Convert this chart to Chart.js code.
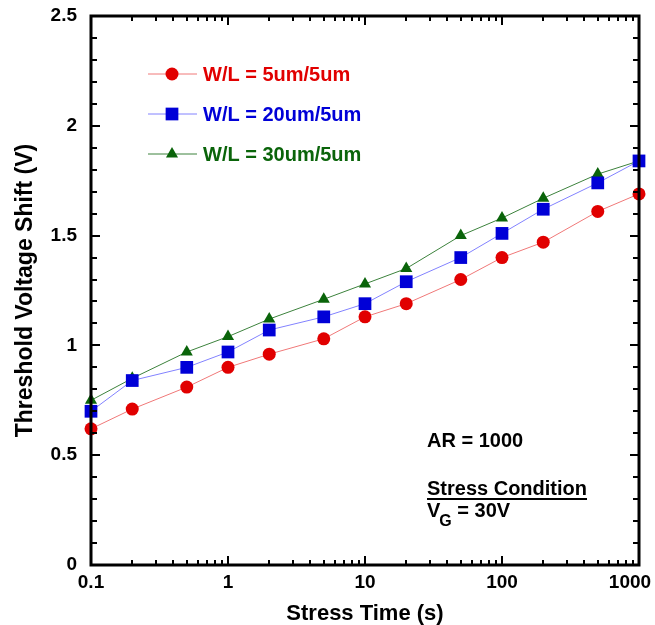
<!DOCTYPE html>
<html>
<head>
<meta charset="utf-8">
<script src="https://cdn.jsdelivr.net/npm/chart.js@4.4.1/dist/chart.umd.min.js"></script>
<style>
  html, body { margin: 0; padding: 0; background: #fff; }
</style>
</head>
<body>
<canvas id="vth-chart" width="655" height="625"></canvas>
<script>
Chart.defaults.font.family = "'Liberation Sans', Arial, Helvetica, sans-serif";
Chart.defaults.font.weight = 'bold';
Chart.defaults.color = '#000';

// stress time (s)
var stressTime = [0.1, 0.2, 0.5, 1, 2, 5, 10, 20, 50, 100, 200, 500, 1000];

// threshold voltage shift (V)
var shift5 = [0.62, 0.71, 0.81, 0.90, 0.96, 1.03, 1.13, 1.19, 1.30, 1.40, 1.47, 1.61, 1.69];
var shift20 = [0.70, 0.84, 0.90, 0.97, 1.07, 1.13, 1.19, 1.29, 1.40, 1.51, 1.62, 1.74, 1.84];
var shift30 = [0.75, 0.85, 0.97, 1.04, 1.12, 1.21, 1.28, 1.35, 1.50, 1.58, 1.67, 1.78, 1.84];

var seriesLabels = ['W/L = 5um/5um', 'W/L = 20um/5um', 'W/L = 30um/5um'];

var xTickValues = [0.1, 1, 10, 100, 1000];
var xTickLabels = ['0.1', '1', '10', '100', '1000'];
var yTickValues = [0, 0.5, 1, 1.5, 2, 2.5];
var yTickLabels = ['0', '0.5', '1', '1.5', '2', '2.5'];

var noteLines = ['AR = 1000', 'Stress Condition', 'V', 'G', ' = 30V'];


function toPoints(ys) {
	var pts = [];
	for (var i = 0; i < stressTime.length; i++) {
		pts.push({ x: stressTime[i], y: ys[i] });
	}
	return pts;
}

function shape(ctx, style, x, y, r) {
	ctx.beginPath();
	if (style === 'circle') {
		ctx.arc(x, y, r, 0, Math.PI * 2);
	} else if (style === 'rect') {
		var s = r * Math.SQRT1_2;
		ctx.rect(x - s, y - s, 2 * s, 2 * s);
	} else {
		ctx.moveTo(x, y - r);
		ctx.lineTo(x + r * Math.sin(Math.PI * 2 / 3), y + r / 2);
		ctx.lineTo(x - r * Math.sin(Math.PI * 2 / 3), y + r / 2);
		ctx.closePath();
	}
	ctx.fill();
}

// frame, inward ticks, legend and note text
var decorPlugin = {
	id: 'decor',
	beforeDraw: function(chart) {
		// keep the last x label ("1000") inside the canvas
		var items = chart.scales.x.getLabelItems(chart.chartArea);
		if (items.length) {
			items[items.length - 1].options.translation[0] -= 9;
		}
	},
	afterDraw: function(chart) {
		var ctx = chart.ctx;
		var area = chart.chartArea;
		var xs = chart.scales.x;
		var ys = chart.scales.y;

		ctx.save();
		ctx.strokeStyle = '#000';

		// y ticks (left + right)
		ctx.lineWidth = 2;
		for (var i = 0; i <= 25; i++) {
			var v = i / 10;
			var py = Math.round(ys.getPixelForValue(v));
			var len = (i % 5 === 0) ? 9 : 6;
			ctx.beginPath();
			ctx.moveTo(area.left, py);
			ctx.lineTo(area.left + len, py);
			ctx.moveTo(area.right, py);
			ctx.lineTo(area.right - len, py);
			ctx.stroke();
		}

		// x ticks (bottom + top)
		for (var d = 0.1; d < 1000; d *= 10) {
			for (var k = 1; k <= 10; k++) {
				var val = k * d;
				var px = Math.round(xs.getPixelForValue(val));
				var tl = (k === 1 || k === 10) ? 9 : 5;
				ctx.beginPath();
				ctx.moveTo(px, area.bottom);
				ctx.lineTo(px, area.bottom - tl);
				ctx.moveTo(px, area.top);
				ctx.lineTo(px, area.top + tl);
				ctx.stroke();
			}
		}

		// frame
		ctx.lineWidth = 3;
		ctx.strokeRect(area.left, area.top, area.right - area.left, area.bottom - area.top);

		// legend
		var ds = chart.data.datasets;
		ctx.font = 'bold 20px "Liberation Sans", Arial, sans-serif';
		ctx.textBaseline = 'middle';
		ctx.textAlign = 'left';
		for (var j = 0; j < ds.length; j++) {
			var ly = 74 + j * 40;
			ctx.strokeStyle = ds[j].borderColor;
			ctx.lineWidth = 1;
			ctx.beginPath();
			ctx.moveTo(148, ly);
			ctx.lineTo(197, ly);
			ctx.stroke();
			ctx.fillStyle = ds[j].pointBackgroundColor;
			shape(ctx, ds[j].pointStyle, 172, ly, ds[j].pointRadius);
			ctx.fillStyle = ds[j].pointBackgroundColor;
			ctx.fillText(ds[j].label, 203, ly + 1);
		}

		// notes
		ctx.fillStyle = '#000';
		ctx.fillText(noteLines[0], 427, 441);
		ctx.fillText(noteLines[1], 427, 489);
		var w = ctx.measureText(noteLines[1]).width;
		ctx.fillRect(427, 498, w, 2);
		ctx.fillText(noteLines[2], 427, 511);
		var vw = ctx.measureText(noteLines[2]).width;
		ctx.font = 'bold 16px "Liberation Sans", Arial, sans-serif';
		ctx.fillText(noteLines[3], 427 + vw - 1, 522);
		var gw = ctx.measureText(noteLines[3]).width;
		ctx.font = 'bold 20px "Liberation Sans", Arial, sans-serif';
		ctx.fillText(noteLines[4], 427 + vw + gw - 1, 511);

		ctx.restore();
	}
};


const ctx = document.getElementById('vth-chart').getContext('2d');
const vthChart = new Chart(ctx, {
	type: 'line',
	data: {
		datasets: [
			{
				label: seriesLabels[0],
				data: toPoints(shift5),
				borderColor: 'rgb(240, 120, 120)',
				borderWidth: 1,
				pointStyle: 'circle',
				pointRadius: 6.5,
				pointBackgroundColor: 'rgb(225, 0, 0)',
				pointBorderWidth: 0,
				clip: false
			},
			{
				label: seriesLabels[1],
				data: toPoints(shift20),
				borderColor: 'rgb(130, 130, 255)',
				borderWidth: 1,
				pointStyle: 'rect',
				pointRadius: 9,
				pointBackgroundColor: 'rgb(0, 0, 215)',
				pointBorderWidth: 0,
				clip: false
			},
			{
				label: seriesLabels[2],
				data: toPoints(shift30),
				borderColor: 'rgb(60, 130, 60)',
				borderWidth: 1,
				pointStyle: 'triangle',
				pointRadius: 7,
				pointBackgroundColor: 'rgb(10, 100, 10)',
				pointBorderWidth: 0,
				clip: false
			}
		]
	},
	options: {
		responsive: false,
		animation: false,
		layout: {
			padding: { top: 16, right: 16, left: 0, bottom: 0 }
		},
		plugins: {
			legend: { display: false },
			tooltip: { enabled: false }
		},
		scales: {
			x: {
				type: 'logarithmic',
				min: 0.1,
				max: 1000,
				grid: { display: false, drawTicks: false },
				border: { display: false },
				afterBuildTicks: function(scale) {
					scale.ticks = xTickValues.map(function(v) { return { value: v }; });
				},
				afterFit: function(scale) {
					scale.height = 60;
					scale.paddingLeft = 0;
					scale.paddingRight = 0;
				},
				ticks: {
					font: { size: 19, weight: 'bold' },
					color: '#000',
					padding: 6,
					maxRotation: 0,
					autoSkip: false,
					callback: function(value) {
						var idx = xTickValues.indexOf(value);
						return idx >= 0 ? xTickLabels[idx] : '';
					}
				},
				title: {
					display: true,
					text: 'Stress Time (s)',
					font: { size: 22, weight: 'bold', lineHeight: 1 },
					color: '#000',
					padding: { top: 0, bottom: 0 }
				}
			},
			y: {
				min: 0,
				max: 2.5,
				grid: { display: false, drawTicks: false },
				border: { display: false },
				afterBuildTicks: function(scale) {
					scale.ticks = yTickValues.map(function(v) { return { value: v }; });
				},
				afterFit: function(scale) {
					scale.width = 91;
					scale.paddingTop = 0;
					scale.paddingBottom = 0;
				},
				ticks: {
					font: { size: 19, weight: 'bold' },
					color: '#000',
					padding: 14,
					callback: function(value) {
						var idx = yTickValues.indexOf(value);
						return idx >= 0 ? yTickLabels[idx] : '';
					}
				},
				title: {
					display: true,
					text: 'Threshold Voltage Shift (V)',
					font: { size: 23, weight: 'bold', lineHeight: 1 },
					color: '#000',
					padding: { top: 14, bottom: 0 }
				}
			}
		}
	},
	plugins: [decorPlugin]
});
</script>
</body>
</html>
